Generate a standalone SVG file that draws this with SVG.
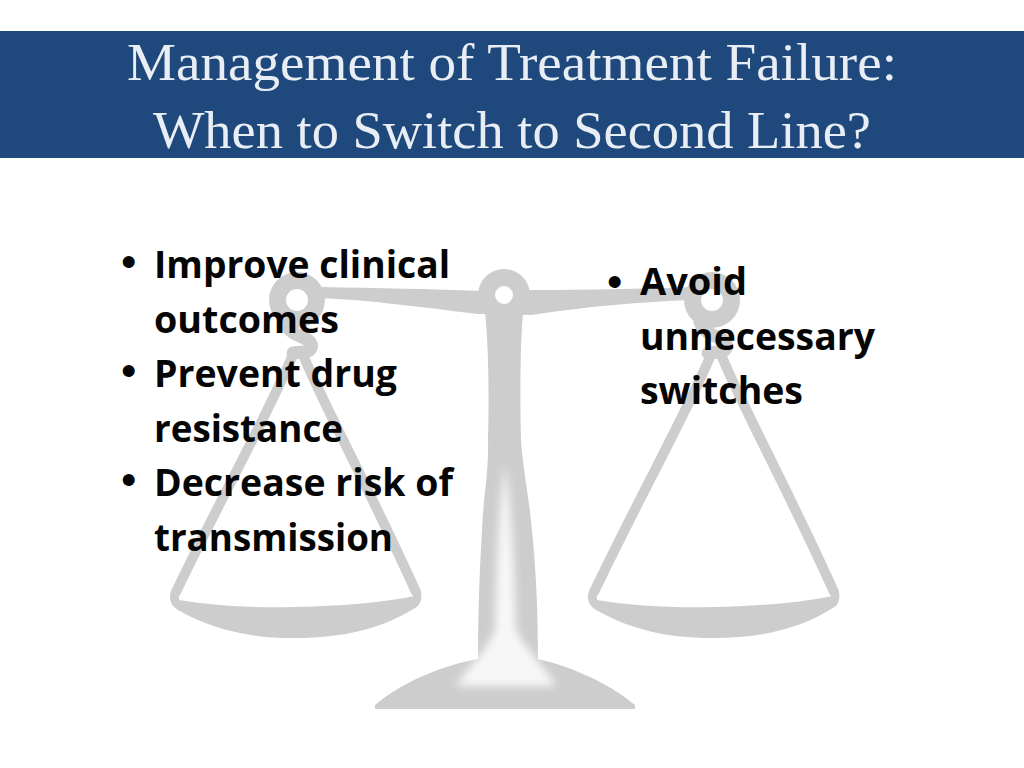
<svg xmlns="http://www.w3.org/2000/svg" width="1024" height="768" viewBox="0 0 1024 768">
<style>
.t{font-family:"Liberation Serif","Times New Roman",serif;font-size:53px;fill:#e9eef5}
.b{font-family:"Open Sans","Noto Sans",sans-serif;font-weight:700;font-size:37px;fill:#050505}
.d{font-family:"Liberation Sans",Arial,sans-serif;font-size:44px;fill:#050505}
.g{fill:#cdcdcd}
.s{fill:none;stroke:#cdcdcd;stroke-linecap:round}
</style>
<defs>
<filter id="blur" x="-30%" y="-10%" width="160%" height="120%"><feGaussianBlur stdDeviation="4"/></filter>
<g id="pan">
<path class="g" d="M170 597C170 590 174 586 178 582L179 600C215 606 255 608 295 607C340 606 380 603 415 596L411 580L421 592C422 598 421 602 418 606C385 628 345 638 295 638C245 638 210 628 178 610C172 606 170 602 170 597Z"/>
<path class="s" stroke-width="10" d="M292 357C270 410 225 490 176 592"/>
<path class="s" stroke-width="10" d="M304 357C326 410 370 490 416 592"/>
</g>
<g id="hanger">
<path class="s" stroke-width="13" d="M285 322C290 335 300 335 308 340C314 345 312 352 303 352L293 353"/>
<path class="g" fill-rule="evenodd" d="M297 272A28 28 0 0 1 297 328A28 28 0 0 1 297 272ZM297 289A11 11 0 0 0 297 311A11 11 0 0 0 297 289Z"/>
</g>
</defs>
<rect width="1024" height="768" fill="#fff"/>
<g id="banner">
<rect y="31" width="1024" height="127" fill="#1f497d"/>
<text class="t" x="127" y="80" textLength="770" lengthAdjust="spacingAndGlyphs">Management of Treatment Failure:</text>
<text class="t" x="153" y="148" textLength="718" lengthAdjust="spacingAndGlyphs">When to Switch to Second Line?</text>
</g>
<g id="scale">
<use href="#pan"/>
<use href="#hanger"/>
<use href="#pan" x="418"/>
<use href="#hanger" x="415"/>
<path class="g" d="M320 287C380 288 430 289 482 291L530 290C590 290 640 289 692 287V300C640 302 590 306 532 315L478 314C420 307 370 300 318 298Z"/>
<path class="g" d="M485 312H523C520 350 520 400 521 440C523 470 528 490 532 530C537 580 538 625 538 659C565 665 605 680 635 705V709H375V705C405 680 445 665 478 659C478 625 479 580 482 530C484 490 489 470 488 440C489 400 489 350 485 312Z"/>
<circle class="g" cx="504" cy="295" r="26"/>
<circle cx="504" cy="295" r="9" fill="#fff"/>
<path fill="#fff" opacity=".85" filter="url(#blur)" d="M505 465C511 500 514 560 516 630C530 655 548 672 556 686H456C464 672 484 655 495 630C497 560 499 500 505 465Z"/>
</g>
<g id="left-text">
<text class="d" x="121" y="277">•</text>
<text class="b" x="154" y="278" textLength="296" lengthAdjust="spacingAndGlyphs">Improve clinical</text>
<text class="b" x="154" y="333" textLength="185" lengthAdjust="spacingAndGlyphs">outcomes</text>
<text class="d" x="121" y="386">•</text>
<text class="b" x="154" y="387" textLength="243" lengthAdjust="spacingAndGlyphs">Prevent drug</text>
<text class="b" x="154" y="442" textLength="189" lengthAdjust="spacingAndGlyphs">resistance</text>
<text class="d" x="121" y="495">•</text>
<text class="b" x="154" y="496" textLength="299" lengthAdjust="spacingAndGlyphs">Decrease risk of</text>
<text class="b" x="154" y="551" textLength="239" lengthAdjust="spacingAndGlyphs">transmission</text>
</g>
<g id="right-text">
<text class="d" x="607" y="297">•</text>
<text class="b" x="640" y="295" textLength="107" lengthAdjust="spacingAndGlyphs">Avoid</text>
<text class="b" x="640" y="350" textLength="235" lengthAdjust="spacingAndGlyphs">unnecessary</text>
<text class="b" x="640" y="404" textLength="163" lengthAdjust="spacingAndGlyphs">switches</text>
</g>
</svg>
